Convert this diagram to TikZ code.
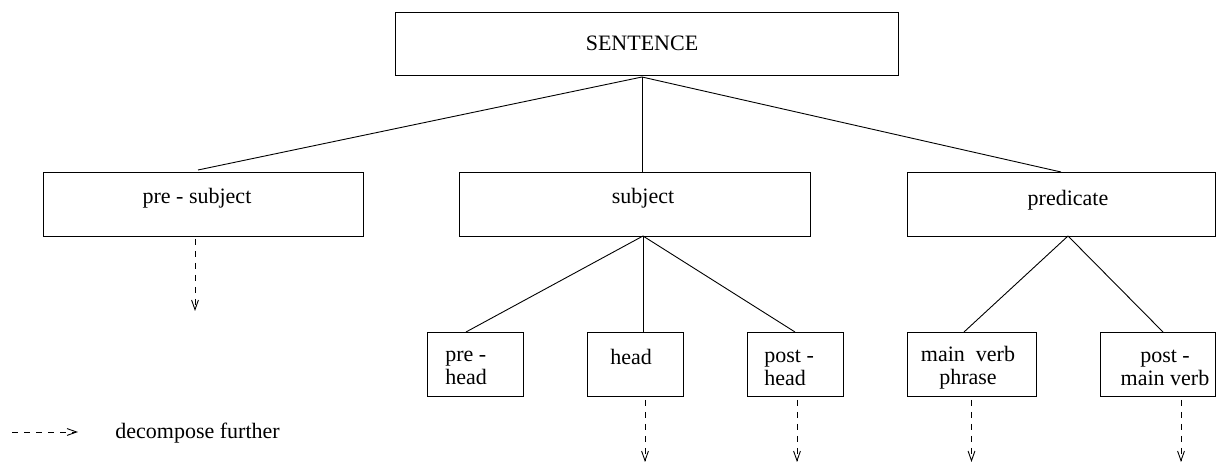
\documentclass[tikz,border=0pt]{standalone}
\usepackage{fontspec}
\setmainfont{Liberation Serif}
\usetikzlibrary{arrows.meta}
\begin{document}
\begin{tikzpicture}[x=0.5pt,y=-0.5pt,
  box/.style={draw,rectangle,inner sep=0pt,outer sep=0pt,line width=0.45pt},
  txt/.style={inner sep=0pt,font=\fontsize{11}{11.5}\selectfont},
  link/.style={line width=0.45pt},
  dec/.style={line width=0.45pt,dash pattern=on 3.2pt off 2.8pt,-{Straight Barb[length=4.8pt,width=3.4pt]}}]
\useasboundingbox (0,0) rectangle (1217,464);
% boxes
\node[box,minimum width=251.5pt,minimum height=31.5pt] (S) at (646.5,43.5) {};
\node[box,minimum width=160pt,minimum height=32pt] (PS) at (203,204) {};
\node[box,minimum width=175.5pt,minimum height=32pt] (SUB) at (634.5,204) {};
\node[box,minimum width=154pt,minimum height=32pt] (PRED) at (1061,204) {};
\node[box,minimum width=48pt,minimum height=32pt] (PREH) at (475,364) {};
\node[box,minimum width=48pt,minimum height=32pt] (HEAD) at (635,364) {};
\node[box,minimum width=48pt,minimum height=32pt] (POSTH) at (795,364) {};
\node[box,minimum width=64.5pt,minimum height=32pt] (MVP) at (971.5,364) {};
\node[box,minimum width=57.5pt,minimum height=32pt] (PMV) at (1157.5,364) {};
% texts
\node[txt] (tS) at (642,43) {SENTENCE};
\node[txt] (tPS) at (197,198) {pre - subject};
\node[txt] (tSUB) at (643,198) {subject};
\node[txt] (tPRED) at (1068,200) {predicate};
\node[txt,anchor=west,align=left] (tPREH) at (445,368) {pre -\\head};
\node[txt,anchor=west] (tHEAD) at (610,357) {head};
\node[txt,anchor=west,align=left] (tPOSTH) at (764,368) {post -\\head};
\node[txt,align=center] (tMVP) at (968,368) {main\ \ verb\\phrase};
\node[txt,align=center] (tPMV) at (1165,368) {post -\\main verb};
% tree links
\draw[link] ([xshift=-2.25pt,yshift=-1pt]S.south) -- ([xshift=-2.5pt,yshift=1pt]PS.north);
\draw[link] ([xshift=-2.25pt,yshift=-1pt]S.south) -- ([xshift=3.75pt]SUB.north);
\draw[link] ([xshift=-2.25pt,yshift=-1pt]S.south) -- (PRED.north);
\draw[link] ([xshift=4.25pt]SUB.south) -- ([xshift=-4.5pt]PREH.north);
\draw[link] ([xshift=4.25pt]SUB.south) -- ([xshift=4pt]HEAD.north);
\draw[link] ([xshift=4.25pt]SUB.south) -- (POSTH.north);
\draw[link] ([xshift=3.5pt]PRED.south) -- ([xshift=-3.75pt]MVP.north);
\draw[link] ([xshift=3.5pt]PRED.south) -- ([xshift=2.75pt]PMV.north);
% decompose-further arrows
\draw[dec] ([xshift=-4pt,yshift=-1.5pt]PS.south) -- ++(0,72);
\draw[dec] ([xshift=5pt,yshift=-2pt]HEAD.south) -- ++(0,62);
\draw[dec] ([xshift=1pt,yshift=-2pt]POSTH.south) -- ++(0,62);
\draw[dec] ([yshift=-2pt]MVP.south) -- ++(0,62);
\draw[dec] ([xshift=11.75pt,yshift=-2pt]PMV.south) -- ++(0,62);
% legend
\coordinate (la) at (12,432);
\coordinate (lb) at (78,432);
\draw[dec] (la) -- (lb);
\node[txt,anchor=west] (leg) at (115,433) {decompose further};
\end{tikzpicture}
\end{document}
